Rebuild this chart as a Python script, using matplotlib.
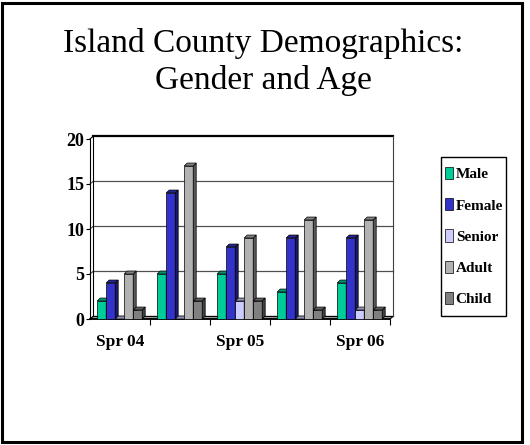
import matplotlib
matplotlib.use("Agg")
import matplotlib.pyplot as plt
import numpy as np
from matplotlib.patches import Polygon, Rectangle
from matplotlib import colors as mcolors

# ---- data ----
categories = ["Spr 04", "", "Spr 05", "", "Spr 06"]
series_names = ["Male", "Female", "Senior", "Adult", "Child"]
male = [2, 5, 5, 3, 4]
female = [4, 14, 8, 9, 9]
senior = [0, 0, 2, 0, 1]
adult = [5, 17, 9, 11, 11]
child = [1, 2, 2, 1, 1]
yticks = [0, 5, 10, 15, 20]
series_values = [male, female, senior, adult, child]
series_colors = ["#00CC99", "#3333CC", "#CCCCFF", "#B2B2B2", "#808080"]

W, H = 530, 445
fig = plt.figure(figsize=(W / 100, H / 100), dpi=100)
fig.patch.set_facecolor("white")

serif = "Liberation Serif"

# axes placement (pixels)
x0_px, x1_px = 90, 393
ytop_px, y0_px = 135, 319
ax = fig.add_axes([x0_px / W, (H - y0_px) / H, (x1_px - x0_px) / W, (y0_px - ytop_px) / H])
ax.set_xlim(0, (x1_px - x0_px) / 60)
ax.set_ylim(0, (y0_px - ytop_px) / 9)
ax.set_facecolor("none")
for s in ["top", "right", "bottom"]:
    ax.spines[s].set_visible(False)
ax.spines["left"].set_bounds(0, 20)
ax.spines["left"].set_linewidth(0.8)

ncat = len(categories)
dx, dy = 0.05, 0.28   # depth of walls (data units)
bdx, bdy = 0.05, 0.33  # depth of bars

# back wall gridlines
for v in yticks:
    lw = 1.6 if v == 20 else 0.9
    col = "black" if v == 20 else "#505050"
    ax.plot([dx, ncat + dx], [v + dy, v + dy], color=col, lw=lw, clip_on=False, zorder=1)
    ax.plot([0, dx], [v, v + dy], color=col, lw=0.8, clip_on=False, zorder=1)
# back wall edges
ax.plot([dx, dx], [dy, 20 + dy], color="black", lw=0.8, clip_on=False, zorder=1)
ax.plot([ncat + dx, ncat + dx], [dy, 20 + dy], color="#404040", lw=0.8, clip_on=False, zorder=1)
# floor
floor = Polygon([[0, 0], [ncat, 0], [ncat + dx, dy], [dx, dy]], closed=True,
                facecolor="#A0A0A0", edgecolor="black", lw=0.8, clip_on=False, zorder=1.5)
ax.add_patch(floor)
ax.plot([0, ncat], [0, 0], color="black", lw=1.2, clip_on=False, zorder=1.6)

# bars
bw = 0.15
start = 0.12
x = np.arange(ncat)
for j, (name, vals, c) in enumerate(zip(series_names, series_values, series_colors)):
    lefts = x + start + j * bw
    rgb = np.array(mcolors.to_rgb(c))
    side = rgb * 0.5
    top = rgb * 0.72
    ax.bar(lefts, vals, width=bw, align="edge", color=c, edgecolor="black",
           linewidth=0.5, label=name, zorder=3, clip_on=False)
    for l, h in zip(lefts, vals):
        ax.add_patch(Polygon([[l + bw, 0], [l + bw + bdx, bdy], [l + bw + bdx, h + bdy], [l + bw, h]],
                             closed=True, facecolor=side, edgecolor="black", lw=0.5, zorder=3, clip_on=False))
        ax.add_patch(Polygon([[l, h], [l + bw, h], [l + bw + bdx, h + bdy], [l + bdx, h + bdy]],
                             closed=True, facecolor=top, edgecolor="black", lw=0.5, zorder=3, clip_on=False))

# y ticks
ax.set_yticks(yticks)
ax.set_yticklabels([str(v) for v in yticks], fontfamily=serif, fontweight="bold", fontsize=13)
ax.tick_params(axis="y", direction="out", length=3, width=0.8, pad=1)

# x ticks
ax.set_xticks(x + 0.5)
ax.set_xticklabels(categories, fontfamily=serif, fontweight="bold", fontsize=12.5)
ax.set_xticks(np.arange(1, ncat + 1), minor=True)
ax.tick_params(axis="x", which="major", length=0, pad=11)
ax.tick_params(axis="x", which="minor", length=4, width=0.8, direction="out")

# legend (frameless, with separate box)
leg = fig.legend(loc="upper left", bbox_to_anchor=(445 / W, 1 - 167 / H),
                 prop={"family": serif, "weight": "bold", "size": 11},
                 frameon=False, borderpad=0,
                 handlelength=0.55, handleheight=0.85, handletextpad=0.15,
                 labelspacing=1.1, borderaxespad=0)
fig.patches.append(Rectangle((441 / W, 1 - 316 / H), 65 / W, 159 / H, transform=fig.transFigure,
                             fill=False, edgecolor="black", lw=1.0))

# title
fig.text(263 / W, 1 - 28 / H, "Island County Demographics:\nGender and Age",
         ha="center", va="top", fontfamily=serif, fontsize=24, linespacing=1.26)

# slide frame
fig.patches.append(Rectangle((1.5 / W, 3.5 / H), 520 / W, 439 / H, transform=fig.transFigure,
                             fill=False, edgecolor="black", lw=2.2))

fig.savefig("out.png", dpi=100)
